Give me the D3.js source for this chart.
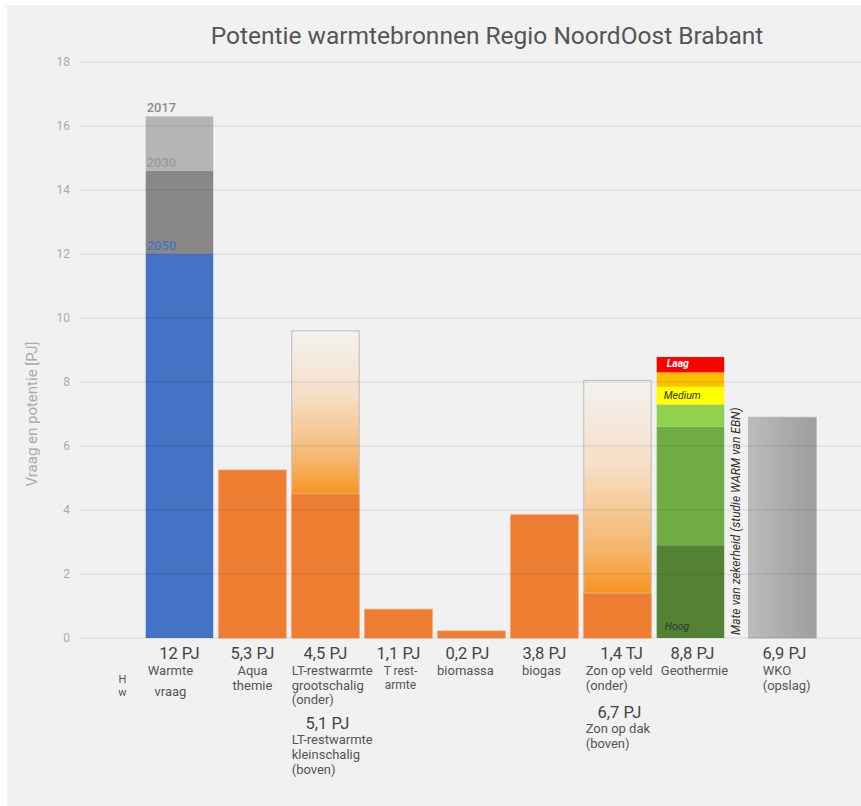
<!DOCTYPE html>
<meta charset="utf-8">
<script src="https://cdn.jsdelivr.net/npm/d3@7"></script>
<style>
body { margin: 0; background: #fff; }
text { font-family: Roboto, "Open Sans", sans-serif; }
</style>
<body>
<script>

// categories along the x axis (first slot is a cut-off label in the original)
var categories = ["Hw", "Warmtevraag", "Aquathermie", "LT-restwarmte", "HT-restwarmte",
                  "Biomassa", "Biogas", "Zon", "Geothermie", "WKO"];

// main (solid) value per category, in PJ
var baseValues = [null, 12.0, 5.25, 4.5, 0.9, 0.22, 3.85, 1.4, null, 6.9];

// upper outlined parts (potential on top)
var upperCats = ["LT-restwarmte", "Zon"];
var upperValues = [9.6, 8.05];

// warmtevraag by year (cumulative tops)
var demandYears = ["2050", "2030", "2017"];
var demandValues = [12.0, 14.6, 16.3];

// geothermie certainty bands (cumulative tops)
var geoBands = ["hoog", "hoog2", "midden", "medium", "laag2", "laag"];
var geoValues = [2.9, 6.6, 7.3, 7.85, 8.3, 8.78];

// labels below the bars
var valueLabels = ["", "12 PJ", "5,3 PJ", "4,5 PJ", "1,1 PJ", "0,2 PJ", "3,8 PJ", "1,4 TJ", "8,8 PJ", "6,9 PJ"];
var nameLabels = [["H", "w"], ["Warmte", "vraag"], ["Aqua", "themie"],
                  ["LT-restwarmte", "grootschalig", "(onder)"], ["T rest-", "armte"],
                  ["biomassa"], ["biogas"], ["Zon op veld", "(onder)"], ["Geothermie"],
                  ["WKO", "(opslag)"]];
var upperValueLabels = ["5,1 PJ", "6,7 PJ"];
var upperNameLabels = [["LT-restwarmte", "kleinschalig", "(boven)"], ["Zon op dak", "(boven)"]];

var yTicks = [0, 2, 4, 6, 8, 10, 12, 14, 16, 18];

var width = 861, height = 806;

var svg = d3.select("body").append("svg")
    .attr("width", width)
    .attr("height", height);

var defs = svg.append("defs");

var fade = defs.append("linearGradient")
    .attr("id", "fade").attr("x1", 0).attr("y1", 0).attr("x2", 0).attr("y2", 1);
fade.append("stop").attr("offset", "0").attr("stop-color", "#f3f2f1");
fade.append("stop").attr("offset", "0.4").attr("stop-color", "#f6dfc6");
fade.append("stop").attr("offset", "0.8").attr("stop-color", "#f5b56a");
fade.append("stop").attr("offset", "1").attr("stop-color", "#f7941e");

var grey = defs.append("linearGradient")
    .attr("id", "grey").attr("x1", 0).attr("y1", 0).attr("x2", 1).attr("y2", 0);
grey.append("stop").attr("offset", "0").attr("stop-color", "#bcbcbc");
grey.append("stop").attr("offset", "1").attr("stop-color", "#9d9d9d");

// panel
svg.append("rect")
    .attr("x", 7).attr("y", 5)
    .attr("width", width - 7).attr("height", height - 5)
    .attr("fill", "#f1f1f1");

var y = d3.scaleLinear().domain([0, 18]).range([638, 62]);

var x = d3.scaleBand()
    .domain(categories)
    .range([72.7, 72.7 + 73 * 9.925])
    .paddingInner(0.075)
    .paddingOuter(0);

// WKO is pushed right to make room for the rotated note
var shift = function(c) { return c == "WKO" ? 19 : 0; };
var bx = function(c) { return x(c) + shift(c); };
var bw = x.bandwidth();

svg.append("text")
    .attr("x", 487).attr("y", 44)
    .attr("text-anchor", "middle")
    .style("font-size", "24.5px")
    .style("fill", "#555")
    .text("Potentie warmtebronnen Regio NoordOost Brabant");

// y axis labels
svg.append("g").selectAll("text")
    .data(yTicks).enter().append("text")
    .attr("x", 70).attr("y", function(d) { return y(d) + 4; })
    .attr("text-anchor", "end")
    .style("font-size", "12px")
    .style("fill", "#aaa")
    .text(function(d) { return d; });

svg.append("text")
    .attr("transform", "translate(37," + y(7) + ") rotate(-90)")
    .attr("text-anchor", "middle")
    .style("font-size", "15px")
    .style("fill", "#aaa")
    .text("Vraag en potentie [PJ]");

var bars = svg.append("g");

// warmtevraag stack
var demandColors = ["#4472c4", "#888888", "#b5b5b5"];
bars.selectAll(".demand")
    .data(demandValues).enter().append("rect")
    .attr("x", bx("Warmtevraag"))
    .attr("width", bw)
    .attr("y", function(d) { return y(d); })
    .attr("height", function(d, i) { return y(i ? demandValues[i - 1] : 0) - y(d); })
    .attr("fill", function(d, i) { return demandColors[i]; });

var yearColors = ["#4a72c4", "#9a9a9a", "#8a8a8a"];
bars.selectAll(".year")
    .data(demandValues).enter().append("text")
    .attr("x", bx("Warmtevraag") + 1)
    .attr("y", function(d) { return y(d) - 4; })
    .style("font-size", "13px")
    .style("font-weight", "500")
    .style("fill", function(d, i) { return yearColors[i]; })
    .text(function(d, i) { return demandYears[i]; });

// upper outlined parts
bars.selectAll(".upper")
    .data(upperValues).enter().append("rect")
    .attr("x", function(d, i) { return bx(upperCats[i]); })
    .attr("width", bw)
    .attr("y", function(d) { return y(d); })
    .attr("height", function(d, i) { return y(baseValues[categories.indexOf(upperCats[i])]) - y(d); })
    .attr("fill", "url(#fade)")
    .attr("stroke", "#c4c4c4")
    .attr("stroke-width", 1.2);

// orange bars
var orange = categories.filter(function(c, i) {
  return baseValues[i] != null && c != "Warmtevraag" && c != "WKO";
});
bars.selectAll(".base")
    .data(orange).enter().append("rect")
    .attr("x", function(c) { return bx(c); })
    .attr("width", bw)
    .attr("y", function(c) { return y(baseValues[categories.indexOf(c)]); })
    .attr("height", function(c) { return y(0) - y(baseValues[categories.indexOf(c)]); })
    .attr("fill", "#ed7d31")
    .attr("stroke", "#f29a60")
    .attr("stroke-width", 0.8);

// WKO
bars.append("rect")
    .attr("x", bx("WKO")).attr("width", bw)
    .attr("y", y(baseValues[9]))
    .attr("height", y(0) - y(baseValues[9]))
    .attr("fill", "url(#grey)")
    .attr("stroke", "#b0b0b0")
    .attr("stroke-width", 0.8);

// geothermie
var geoColors = ["#548235", "#70ad47", "#92d050", "#ffff00", "#ffc000", "#ff0000"];
bars.selectAll(".geo")
    .data(geoValues).enter().append("rect")
    .attr("x", bx("Geothermie"))
    .attr("width", bw)
    .attr("y", function(d) { return y(d); })
    .attr("height", function(d, i) { return y(i ? geoValues[i - 1] : 0) - y(d); })
    .attr("fill", function(d, i) { return geoColors[i]; });

var gx = bx("Geothermie") + 9;
bars.append("text").attr("x", gx + 1).attr("y", y(8.3) - 5)
    .style("font-size", "10.5px").style("font-style", "italic").style("font-weight", "bold")
    .style("fill", "#fff").text("Laag");
bars.append("text").attr("x", gx - 2).attr("y", y(7.3) - 5)
    .style("font-size", "10.5px").style("font-style", "italic")
    .style("fill", "#333").text("Medium");
bars.append("text").attr("x", gx - 1).attr("y", y(0) - 8)
    .style("font-size", "10.5px").style("font-style", "italic")
    .style("fill", "#333").text("Hoog");

svg.append("text")
    .attr("transform", "translate(" + (bx("Geothermie") + bw + 16) + "," + (y(0) - 3) + ") rotate(-90)")
    .style("font-size", "12px")
    .style("font-style", "italic")
    .style("fill", "#333")
    .text("Mate van zekerheid (studie WARM van EBN)");

// grid lines drawn over the bars, faint
svg.append("g").selectAll("line")
    .data(yTicks).enter().append("line")
    .attr("x1", 80).attr("x2", width)
    .attr("y1", function(d) { return y(d); })
    .attr("y2", function(d) { return y(d); })
    .attr("stroke", "#000")
    .attr("stroke-opacity", 0.07)
    .attr("stroke-width", 1.5);

// labels under the bars
var nameAlign = ["middle", "middle", "middle", "start", "middle", "middle", "middle", "start", "middle", "start"];
var nameDx = [16, -9, 0, 0, 2, -6, -3, 2, 4, 14];
var valueDx = [0, 0, 0, 0, 0, -4, 0, 4, 2, 2];
var lineGap = [13, 21, 15, 14.5, 14, 15, 15, 15, 15, 15];
var nameSize = ["11px", "13px", "13px", "13px", "12px", "13px", "13px", "13px", "13px", "13px"];

var labels = svg.append("g");
categories.forEach(function(c, i) {
  var cx = bx(c) + bw / 2;
  labels.append("text")
      .attr("x", cx + valueDx[i]).attr("y", 659)
      .attr("text-anchor", "middle")
      .style("font-size", "16.5px")
      .style("fill", "#444")
      .text(valueLabels[i]);
  var t = labels.append("text")
      .attr("text-anchor", nameAlign[i])
      .style("font-size", nameSize[i])
      .style("fill", "#555");
  nameLabels[i].forEach(function(s, j) {
    t.append("tspan")
        .attr("x", nameAlign[i] == "start" ? bx(c) + nameDx[i] : cx + nameDx[i])
        .attr("y", (i == 0 ? 683 : 675) + j * lineGap[i])
        .text(s);
  });
});

var upperTop = [729, 718];
upperCats.forEach(function(c, i) {
  labels.append("text")
      .attr("x", bx(c) + bw / 2 + 2).attr("y", upperTop[i])
      .attr("text-anchor", "middle")
      .style("font-size", "16.5px")
      .style("fill", "#444")
      .text(upperValueLabels[i]);
  var t = labels.append("text")
      .style("font-size", "13px")
      .style("fill", "#555");
  upperNameLabels[i].forEach(function(s, j) {
    t.append("tspan")
        .attr("x", bx(c) + (i ? 2 : 0))
        .attr("y", upperTop[i] + 15 + j * 15)
        .text(s);
  });
});

</script>
</body>
